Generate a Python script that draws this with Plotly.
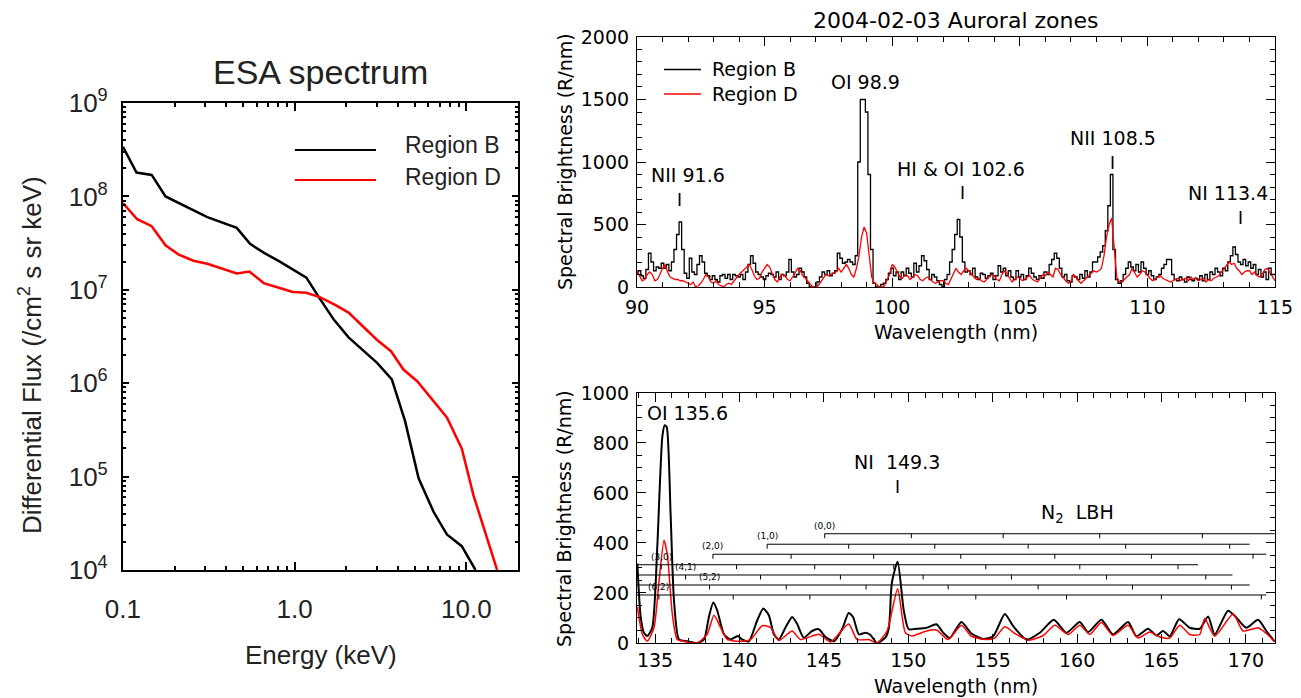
import plotly.graph_objects as go

# ---------------- ESA spectrum (left) ----------------
esa_energy_b = [0.1, 0.12, 0.147, 0.177, 0.31, 0.46, 0.55, 0.66, 0.82, 1.17, 1.41, 1.69,
                2.06, 2.52, 3.02, 3.68, 4.4, 5.27, 6.44, 7.7, 9.4, 11.3]
esa_flux_b = [3.4e8, 1.8e8, 1.7e8, 1.0e8, 6.0e7, 4.6e7, 3.1e7, 2.5e7, 2.0e7, 1.35e7, 7.9e6, 4.8e6,
              3.1e6, 2.2e6, 1.65e6, 1.1e6, 3.9e5, 9.6e4, 4.2e4, 2.4e4, 1.8e4, 1.0e4]
esa_energy_d = [0.1, 0.121, 0.147, 0.177, 0.21, 0.257, 0.31, 0.46, 0.545, 0.66, 0.8, 0.975, 1.17,
                1.41, 1.72, 2.06, 2.52, 3.02, 3.64, 4.3, 5.17, 6.44, 7.7, 9.4, 11.0, 15.1]
esa_flux_d = [8.5e7, 5.7e7, 4.8e7, 3.0e7, 2.4e7, 2.05e7, 1.9e7, 1.5e7, 1.57e7, 1.18e7, 1.06e7, 9.5e6,
              9.3e6, 8.3e6, 6.9e6, 5.7e6, 4.0e6, 2.9e6, 2.2e6, 1.4e6, 1.05e6, 6.5e5, 4.3e5, 2.0e5,
              6.3e4, 1.0e4]

# ---------------- 90-115 nm spectra (top right), 0.1 nm bins from 90.0 ----------------
top_start, top_step = 90.0, 0.1
top_region_b = [
    110, 130, 90, 70, 140, 270, 200, 130, 160, 150,
    190, 150, 180, 130, 200, 300, 420, 520, 300, 110,
    70, 230, 120, 100, 180, 250, 200, 110, 90, 60,
    90, 60, 40, 90, 100, 70, 100, 60, 100, 90,
    80, 100, 60, 120, 180, 250, 190, 120, 100, 80,
    60, 90, 110, 100, 80, 120, 60, 100, 90, 120,
    220, 120, 80, 100, 150, 120, 80, 30, 0, 0,
    0, 40, 80, 120, 100, 130, 90, 110, 130, 270,
    230, 190, 200, 220, 200, 180, 250, 1000, 1500, 1500,
    1400, 900, 300, 30, 0, 0, 20, 30, 60, 110,
    150, 90, 120, 60, 120, 90, 150, 110, 80, 190,
    120, 170, 250, 210, 140, 60, 100, 80, 50, 20,
    0, 60, 100, 200, 300, 420, 540, 400, 200, 120,
    130, 100, 150, 80, 60, 110, 100, 70, 90, 110,
    60, 90, 170, 120, 150, 90, 130, 80, 60, 130,
    80, 100, 60, 90, 150, 110, 80, 60, 90, 70,
    120, 100, 180, 220, 270, 230, 150, 80, 100, 50,
    40, 90, 80, 60, 100, 70, 130, 80, 120, 200,
    200, 240, 280, 330, 450, 650, 900, 300, 60, 30,
    50, 100, 150, 200, 160, 130, 180, 120, 200, 150,
    100, 130, 90, 60, 80, 100, 150, 180, 220, 220,
    100, 60, 50, 80, 60, 40, 80, 60, 50, 70,
    60, 90, 50, 100, 60, 120, 100, 150, 120, 90,
    150, 130, 200, 250, 320, 260, 200, 180, 220, 170,
    200, 150, 180, 100, 140, 80, 120, 60, 150, 100,
    100,
]
top_region_d = [
    130, 90, 50, 60, 100, 120, 100, 50, 60, 100,
    150, 180, 120, 80, 70, 60, 60, 50, 50, 40,
    30, 20, 40, 0, 10, 30, 60, 100, 80, 40,
    30, 50, 20, 10, 0, 20, 30, 20, 50, 80,
    100, 120, 140, 160, 180, 140, 90, 60, 70, 120,
    150, 180, 160, 110, 60, 40, 80, 100, 90, 60,
    50, 80, 120, 150, 130, 90, 70, 40, 20, 0,
    0, 10, 40, 80, 100, 90, 100, 110, 120, 150,
    120, 150, 180, 150, 100, 80, 150, 250, 400, 480,
    430, 250, 80, 30, 20, 0, 0, 10, 50, 100,
    180, 160, 120, 80, 70, 100, 90, 60, 80, 100,
    90, 60, 50, 70, 80, 60, 40, 30, 40, 50,
    50, 30, 20, 60, 100, 150, 120, 100, 130, 150,
    130, 110, 80, 60, 70, 50, 40, 60, 80, 100,
    90, 60, 50, 100, 130, 110, 70, 40, 60, 80,
    70, 50, 60, 80, 90, 60, 50, 40, 70, 100,
    90, 120, 100, 80, 150, 140, 100, 70, 50, 30,
    40, 100, 80, 50, 30, 50, 70, 90, 110, 130,
    120, 130, 150, 250, 400, 500, 550, 300, 80, 40,
    40, 60, 80, 100, 150, 120, 80, 100, 130, 120,
    90, 70, 50, 60, 80, 90, 70, 60, 50, 40,
    50, 60, 70, 50, 60, 70, 50, 80, 60, 70,
    50, 60, 70, 40, 60, 50, 70, 80, 90, 120,
    150, 170, 200, 180, 190, 150, 130, 100, 120, 130,
    130, 100, 120, 90, 80, 100, 140, 150, 120, 80,
    50,
]

# ---------------- 134-172 nm spectra (bottom right) ----------------
bot_wl_b = [133.95, 134.15, 134.34, 134.54, 134.84, 135.13, 135.43, 135.57, 135.69, 135.92, 136.12,
            136.42, 136.91, 137.5, 137.9, 138.19, 138.45, 138.68, 139.08, 139.47, 139.9, 140.16,
            140.56, 141.05, 141.41, 141.74, 142.04, 142.33, 142.73, 143.12, 143.42, 143.81, 144.3,
            144.7, 145.1, 145.6, 146.08, 146.47, 146.73, 147.07, 147.46, 147.76, 148.15, 148.64,
            148.85, 149.03, 149.37, 149.73, 150.02, 150.49, 151.08, 151.67, 152.07, 152.46, 153.15,
            153.74, 154.43, 155.03, 155.72, 156.21, 157.0, 157.79, 158.62, 159.37, 160.16, 160.65,
            161.44, 162.13, 163.02, 163.51, 164.2, 164.7, 165.09, 165.49, 166.04, 166.67, 167.26,
            167.76, 168.15, 168.94, 169.43, 170.02, 170.72, 171.21, 171.7]
bot_val_b = [318, 104, 41, 28, 62, 380, 823, 871, 864, 519, 173,
             14, 7, 0, 14, 104, 162, 131, 35, 14, 28, 14,
             7, 90, 138, 111, 35, 14, 62, 104, 76, 21, 48,
             55, 24, 7, 55, 120, 104, 35, 41, 32, 0, 21,
             60, 242, 325, 131, 55, 57, 61, 75, 41, 20, 84,
             38, 16, 27, 116, 68, 14, 41, 93, 41, 84, 44,
             93, 34, 84, 27, 57, 30, 48, 27, 95, 61, 57,
             106, 34, 129, 102, 61, 93, 48, 5]
bot_wl_d = [133.95, 134.25, 134.54, 134.94, 135.23, 135.53, 135.73, 136.02, 136.32, 136.91, 137.5,
            138.09, 138.49, 138.88, 139.28, 140.06, 140.66, 141.35, 141.84, 142.33, 143.12, 143.61,
            144.7, 145.39, 146.47, 146.96, 147.66, 148.15, 148.74, 149.37, 149.83, 150.22, 151.08,
            151.67, 152.36, 153.15, 153.74, 154.63, 155.12, 155.72, 156.31, 157.1, 157.99, 158.68,
            159.47, 160.16, 160.75, 161.44, 162.13, 163.02, 163.61, 164.3, 164.89, 165.49, 166.08,
            166.67, 167.26, 167.56, 168.15, 169.24, 169.83, 170.72, 171.21, 171.7]
bot_val_d = [145, 35, 7, 62, 242, 411, 353, 118, 14, 4, 0,
             35, 111, 62, 14, 7, 14, 69, 62, 10, 48, 14,
             35, 4, 76, 14, 14, 0, 48, 217, 41, 28, 48,
             52, 14, 71, 27, 14, 20, 65, 38, 11, 30, 71,
             34, 71, 34, 82, 30, 71, 20, 44, 24, 20, 71,
             34, 34, 98, 27, 116, 48, 61, 38, 5]

# N2 LBH progressions: label, level, line start/end, band positions (nm)
lbh_labels = ["(0,0)", "(1,0)", "(2,0)", "(3,0)", "(4,1)", "(5,2)", "(6,2)"]
lbh_levels = [437, 395, 355, 313, 272, 232, 192]
lbh_starts = [145.05, 141.64, 138.43, 133.93, 133.93, 133.93, 133.93]
lbh_ends = [171.7, 170.22, 171.21, 167.16, 169.2, 170.22, 171.21]
lbh_bands = [
    [145.05, 150.18, 155.62, 161.34, 167.42],
    [141.64, 146.47, 151.57, 157.1, 162.88, 169.04],
    [138.43, 143.06, 147.95, 153.11, 158.68, 164.4, 170.42],
    [135.37, 139.83, 144.46, 149.14, 154.59, 160.16, 165.98],
    [136.81, 141.25, 145.98, 150.88, 156.11, 161.74, 167.62],
    [138.23, 142.77, 147.5, 152.36, 157.69, 163.28, 169.14],
    [135.23, 139.63, 144.17, 148.94, 154.0, 159.37, 164.99, 170.91],
]

# line identifications: (text, x, y) and marker "I" positions
top_lines = [("NII 91.6", 92.0, 896, 91.68, 696),
             ("OI 98.9", 98.97, 1642, None, None),
             ("HI & OI 102.6", 102.7, 944, 102.74, 752),
             ("NII 108.5", 108.65, 1194, 108.65, 992),
             ("NI 113.4", 113.16, 752, 113.63, 552)]

HEL = "Liberation Sans, Arial, sans-serif"
IDL = "DejaVu Sans, sans-serif"
GREY = "#222222"

fig = go.Figure()

# left panel
fig.add_trace(go.Scatter(x=esa_energy_b, y=esa_flux_b, mode="lines", xaxis="x", yaxis="y",
                         line=dict(color="black", width=2.5), showlegend=False))
fig.add_trace(go.Scatter(x=esa_energy_d, y=esa_flux_d, mode="lines", xaxis="x", yaxis="y",
                         line=dict(color="red", width=2.5), showlegend=False))

# top right
fig.add_trace(go.Scatter(x0=top_start, dx=top_step, y=top_region_b, mode="lines", xaxis="x2", yaxis="y2",
                         line=dict(color="black", width=1.3, shape="hvh"), showlegend=False))
fig.add_trace(go.Scatter(x0=top_start, dx=top_step, y=top_region_d, mode="lines", xaxis="x2", yaxis="y2",
                         line=dict(color="red", width=1.3), showlegend=False))

# bottom right
fig.add_trace(go.Scatter(x=bot_wl_b, y=bot_val_b, mode="lines", xaxis="x3", yaxis="y3",
                         line=dict(color="black", width=2, shape="spline", smoothing=0.6), showlegend=False))
fig.add_trace(go.Scatter(x=bot_wl_d, y=bot_val_d, mode="lines", xaxis="x3", yaxis="y3",
                         line=dict(color="red", width=1.5, shape="spline", smoothing=0.6), showlegend=False))

left_frame = dict(showline=True, linecolor="black", linewidth=2, mirror="ticks", ticks="inside",
                  tickcolor="black", tickwidth=2, showgrid=False, zeroline=False, automargin=False,
                  tickfont=dict(family=HEL, size=26, color=GREY))
right_frame = dict(showline=True, linecolor="black", linewidth=1.2, mirror="ticks", ticks="inside",
                   ticklen=9, tickcolor="black", tickwidth=1.2, showgrid=False, zeroline=False,
                   automargin=False, tickfont=dict(family=IDL, size=19, color="black"))

minor_e = [0.2, 0.3, 0.4, 0.5, 0.6, 0.7, 0.8, 0.9, 2, 3, 4, 5, 6, 7, 8, 9, 20]
minor_f = [m * 10 ** k for k in range(4, 9) for m in range(2, 10)]

fig.update_layout(
    width=1301, height=698, margin=dict(l=0, r=0, t=0, b=0, autoexpand=False),
    paper_bgcolor="white", plot_bgcolor="white", showlegend=False,
    xaxis=dict(left_frame, domain=[0.0945, 0.3982], type="log", range=[-1, 1.301],
               tickvals=[0.1, 1, 10], ticktext=["0.1", "1.0", "10.0"], ticklen=8,
               ticklabelstandoff=15,
               minor=dict(tickvals=minor_e, ticks="inside", ticklen=4, tickwidth=2, tickcolor="black"),
               anchor="y"),
    yaxis=dict(left_frame, domain=[0.1834, 0.8524], type="log", range=[4, 9],
               tickvals=[1e4, 1e5, 1e6, 1e7, 1e8, 1e9],
               ticktext=["10<sup>4</sup>", "10<sup>5</sup>", "10<sup>6</sup>", "10<sup>7</sup>",
                         "10<sup>8</sup>", "10<sup>9</sup>"], ticklen=6, ticklabelstandoff=8,
               minor=dict(tickvals=minor_f, ticks="inside", ticklen=3, tickwidth=1.5, tickcolor="black"),
               anchor="x"),
    xaxis2=dict(right_frame, domain=[0.4896, 0.9800], range=[90, 115], tick0=90, dtick=5,
                ticklabelstandoff=3,
                minor=dict(dtick=1, ticks="inside", ticklen=5, tickcolor="black", tickwidth=1.2),
                anchor="y2"),
    yaxis2=dict(right_frame, domain=[0.5888, 0.9470], range=[0, 2000], tick0=0, dtick=500,
                ticklabelstandoff=3,
                minor=dict(dtick=100, ticks="inside", ticklen=5, tickcolor="black", tickwidth=1.2),
                anchor="x2"),
    xaxis3=dict(right_frame, domain=[0.4896, 0.9800], range=[133.93, 171.72], tick0=135, dtick=5,
                ticklabelstandoff=0,
                minor=dict(dtick=1, ticks="inside", ticklen=5, tickcolor="black", tickwidth=1.2),
                anchor="y3"),
    yaxis3=dict(right_frame, domain=[0.0788, 0.4370], range=[0, 1000], tick0=0, dtick=200,
                ticklabelstandoff=3,
                minor=dict(dtick=50, ticks="inside", ticklen=5, tickcolor="black", tickwidth=1.2),
                anchor="x3"),
)

ann = []
shapes = []


def ptext(text, x, y, size, family, color="black", angle=0, xanchor="center"):
    ann.append(dict(text=text, x=x, y=y, xref="paper", yref="paper", showarrow=False,
                    xanchor=xanchor, yanchor="middle", textangle=angle,
                    font=dict(family=family, size=size, color=color)))


# left panel texts and legend
ptext("ESA spectrum", 0.2464, 0.8968, 34, HEL, GREY)
ptext("Energy (keV)", 0.2464, 0.0616, 26, HEL, GREY)
ptext("Differential Flux (/cm<sup>2</sup> s sr keV)", 0.0231, 0.4914, 26, HEL, GREY, angle=-90)
ptext("Region B", 0.3098, 0.7923, 23, HEL, GREY, xanchor="left")
ptext("Region D", 0.3098, 0.7464, 23, HEL, GREY, xanchor="left")
for yy, col in [(0.7851, "black"), (0.7421, "red")]:
    shapes.append(dict(type="line", xref="paper", yref="paper", x0=0.2267, x1=0.2890, y0=yy, y1=yy,
                       line=dict(color=col, width=2)))

# right panel texts and legend
ptext("2004-02-03 Auroral zones", 0.7348, 0.9713, 22, IDL)
ptext("Wavelength (nm)", 0.7348, 0.5244, 19, IDL)
ptext("Wavelength (nm)", 0.7348, 0.0172, 19, IDL)
ptext("Spectral Brightness (R/nm)", 0.4343, 0.7679, 19, IDL, angle=-90)
ptext("Spectral Brightness (R/nm)", 0.4335, 0.2579, 19, IDL, angle=-90)
ptext("Region B", 0.5457, 0.9011, 19, IDL, xanchor="left")
ptext("Region D", 0.5457, 0.8653, 19, IDL, xanchor="left")
for yy, col in [(0.9004, "black"), (0.8653, "red")]:
    shapes.append(dict(type="line", xref="paper", yref="paper", x0=0.5104, x1=0.5388, y0=yy, y1=yy,
                       line=dict(color=col, width=1.3)))

for text, tx, ty, mx, my in top_lines:
    ann.append(dict(text=text, x=tx, y=ty, xref="x2", yref="y2", showarrow=False,
                    font=dict(family=IDL, size=19, color="black")))
    if mx is not None:
        ann.append(dict(text="I", x=mx, y=my, xref="x2", yref="y2", showarrow=False,
                        font=dict(family=IDL, size=17, color="black")))

# bottom panel identifications
ann.append(dict(text="OI 135.6", x=136.9, y=920, xref="x3", yref="y3", showarrow=False,
                font=dict(family=IDL, size=19, color="black")))
ann.append(dict(text="NI  149.3", x=149.32, y=725, xref="x3", yref="y3", showarrow=False,
                font=dict(family=IDL, size=19, color="black")))
ann.append(dict(text="I", x=149.36, y=625, xref="x3", yref="y3", showarrow=False,
                font=dict(family=IDL, size=17, color="black")))
ann.append(dict(text="N<sub>2</sub>  LBH", x=160.04, y=519, xref="x3", yref="y3", showarrow=False,
                font=dict(family=IDL, size=19, color="black")))

for lab, lev, x0, x1, bands in zip(lbh_labels, lbh_levels, lbh_starts, lbh_ends, lbh_bands):
    shapes.append(dict(type="line", xref="x3", yref="y3", x0=x0, x1=x1, y0=lev, y1=lev,
                       line=dict(color="black", width=1)))
    for b in bands:
        shapes.append(dict(type="line", xref="x3", yref="y3", x0=b, x1=b, y0=lev, y1=lev - 18,
                           line=dict(color="black", width=1)))
    ann.append(dict(text=lab, x=bands[0], y=lev, xref="x3", yref="y3", showarrow=False,
                    yanchor="bottom", yshift=1, font=dict(family=IDL, size=9, color="black")))

fig.update_layout(annotations=ann, shapes=shapes)

# the page's default body margin would shift the 1301x698 figure
fig.write_html("out.html", config={"displayModeBar": False},
               post_script="document.body.style.margin = '0';")
